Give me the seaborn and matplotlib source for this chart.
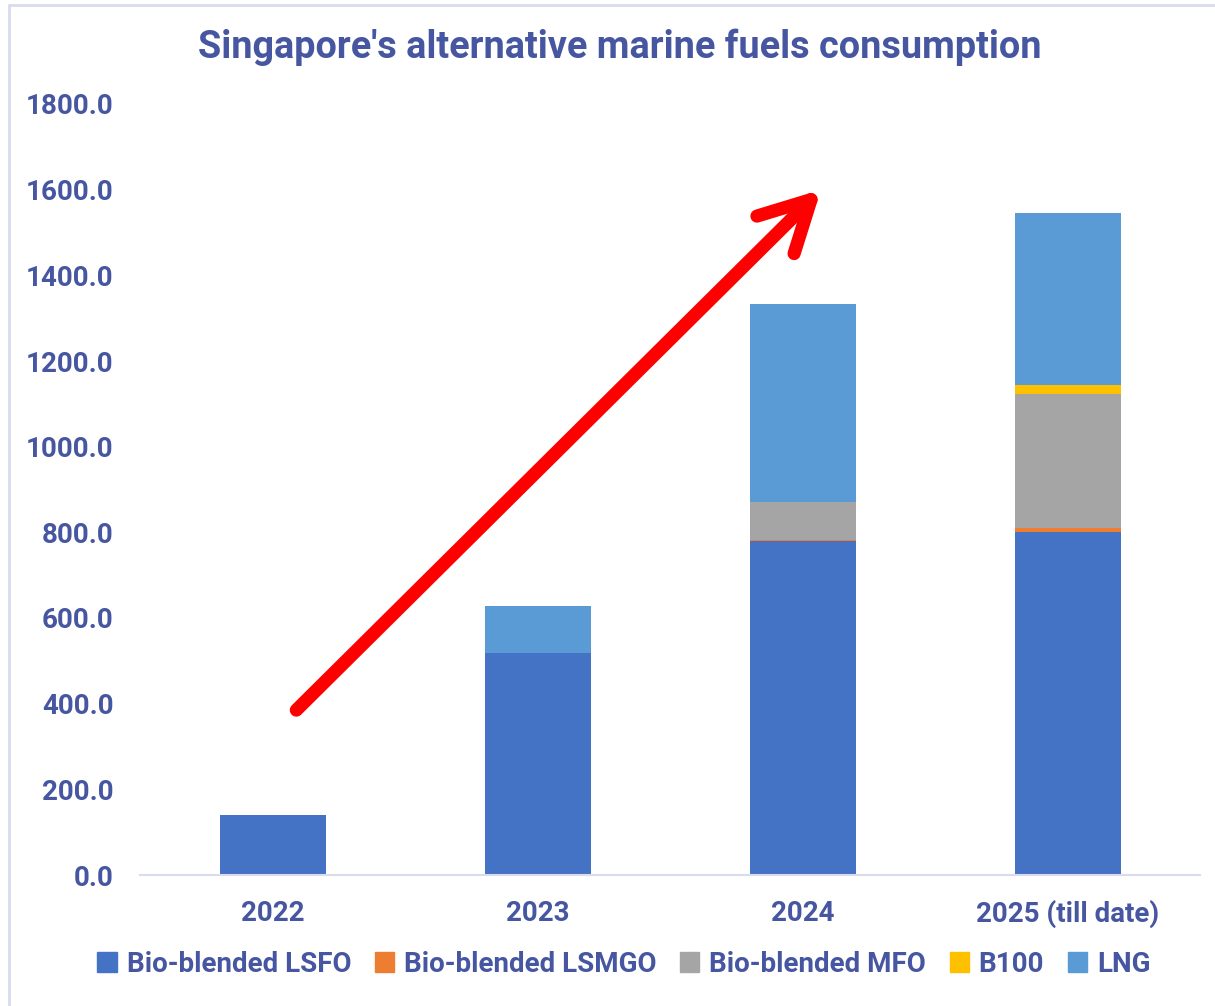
import numpy as np
import pandas as pd
import matplotlib
matplotlib.use('Agg')
import matplotlib.pyplot as plt
import seaborn as sns
from matplotlib.patches import FancyArrowPatch
from matplotlib.lines import Line2D

# ============================================================
# DONNÉES
# ============================================================
years = ["2022", "2023", "2024", "2025 (till date)"]
fuels = ["Bio-blended LSFO", "Bio-blended LSMGO", "Bio-blended MFO", "B100", "LNG"]
lsfo = [140, 518, 780, 800]
lsmgo = [0, 0, 2, 9]
mfo = [0, 0, 89, 313]
b100 = [0, 0, 0, 21]
lng = [0, 110, 462, 402]
colors = ["#4472C4", "#ED7D31", "#A5A5A5", "#FFC000", "#5B9BD5"]
yticks = [0, 200, 400, 600, 800, 1000, 1200, 1400, 1600, 1800]

TXT = "#4656A0"
GRID = "#D9DCEF"

df = pd.DataFrame({"year": years, fuels[0]: lsfo, fuels[1]: lsmgo,
                   fuels[2]: mfo, fuels[3]: b100, fuels[4]: lng})

sns.set_theme(style="white")
plt.rcParams['font.family'] = ['Roboto', 'DejaVu Sans']
plt.rcParams['font.weight'] = 'bold'

fig = plt.figure(figsize=(12.15, 10.06), dpi=100)
ax = fig.add_axes([140 / 1215, 1 - 875 / 1006, 1060 / 1215, 771 / 1006])

# barres empilées : chaque série part du cumul précédent
bottom = np.zeros(len(years))
for i, (fuel, col) in enumerate(zip(fuels, colors)):
    tmp = df[["year"]].copy()
    tmp["val"] = df[fuel] + bottom
    sns.barplot(data=tmp, x="year", y="val", color=col, width=0.4,
                ax=ax, saturation=1, linewidth=0)
    bottom = bottom + df[fuel].values

# la série la plus haute doit être derrière
for i, cont in enumerate(ax.containers):
    for p in cont:
        p.set_zorder(10 - i)

ax.set_ylim(0, 1800)
ax.set_xlim(-0.5, 3.5)
ax.set_yticks(yticks)
ax.set_yticklabels([f"{v:.1f}" for v in yticks])
ax.set_xlabel("")
ax.set_ylabel("")
ax.tick_params(axis='both', length=0, labelsize=20, colors=TXT)
ax.tick_params(axis='y', pad=19)
ax.tick_params(axis='x', pad=18)
for lab in ax.get_xticklabels() + ax.get_yticklabels():
    lab.set_fontweight('bold')
for s in ["top", "right", "left"]:
    ax.spines[s].set_visible(False)
ax.spines["bottom"].set_color(GRID)
ax.spines["bottom"].set_linewidth(1.5)
ax.spines["bottom"].set_zorder(20)

# flèche rouge de tendance
arrow = FancyArrowPatch((0.09, 385), (2.07, 1600),
                        arrowstyle="->,head_length=36,head_width=19",
                        mutation_scale=1, color="#FF0000", lw=9.5,
                        shrinkA=0, shrinkB=0,
                        capstyle="round", joinstyle="round", zorder=30)
ax.add_patch(arrow)

fig.text(620 / 1215, 1 - 47 / 1006, "Singapore's alternative marine fuels consumption",
         ha="center", va="center", fontsize=27.3, fontweight="bold", color=TXT)

handles = [plt.Rectangle((0, 0), 1, 1, color=c) for c in colors]
leg = fig.legend(handles, fuels, loc="center", bbox_to_anchor=(624 / 1215, 1 - 964 / 1006),
                 ncol=5, frameon=False, fontsize=20, handlelength=0.7, handleheight=0.7,
                 handletextpad=0.35, columnspacing=0.85)
for t in leg.get_texts():
    t.set_color(TXT)
    t.set_fontweight("bold")

# cadre du graphique
fig.add_artist(Line2D([9 / 1215, 9 / 1215], [0, 1 - 5 / 1006], color=GRID, lw=2,
                      transform=fig.transFigure))
fig.add_artist(Line2D([9 / 1215, 1], [1 - 5 / 1006, 1 - 5 / 1006], color=GRID, lw=2,
                      transform=fig.transFigure))

fig.savefig("out.png", dpi=100, facecolor="white")
